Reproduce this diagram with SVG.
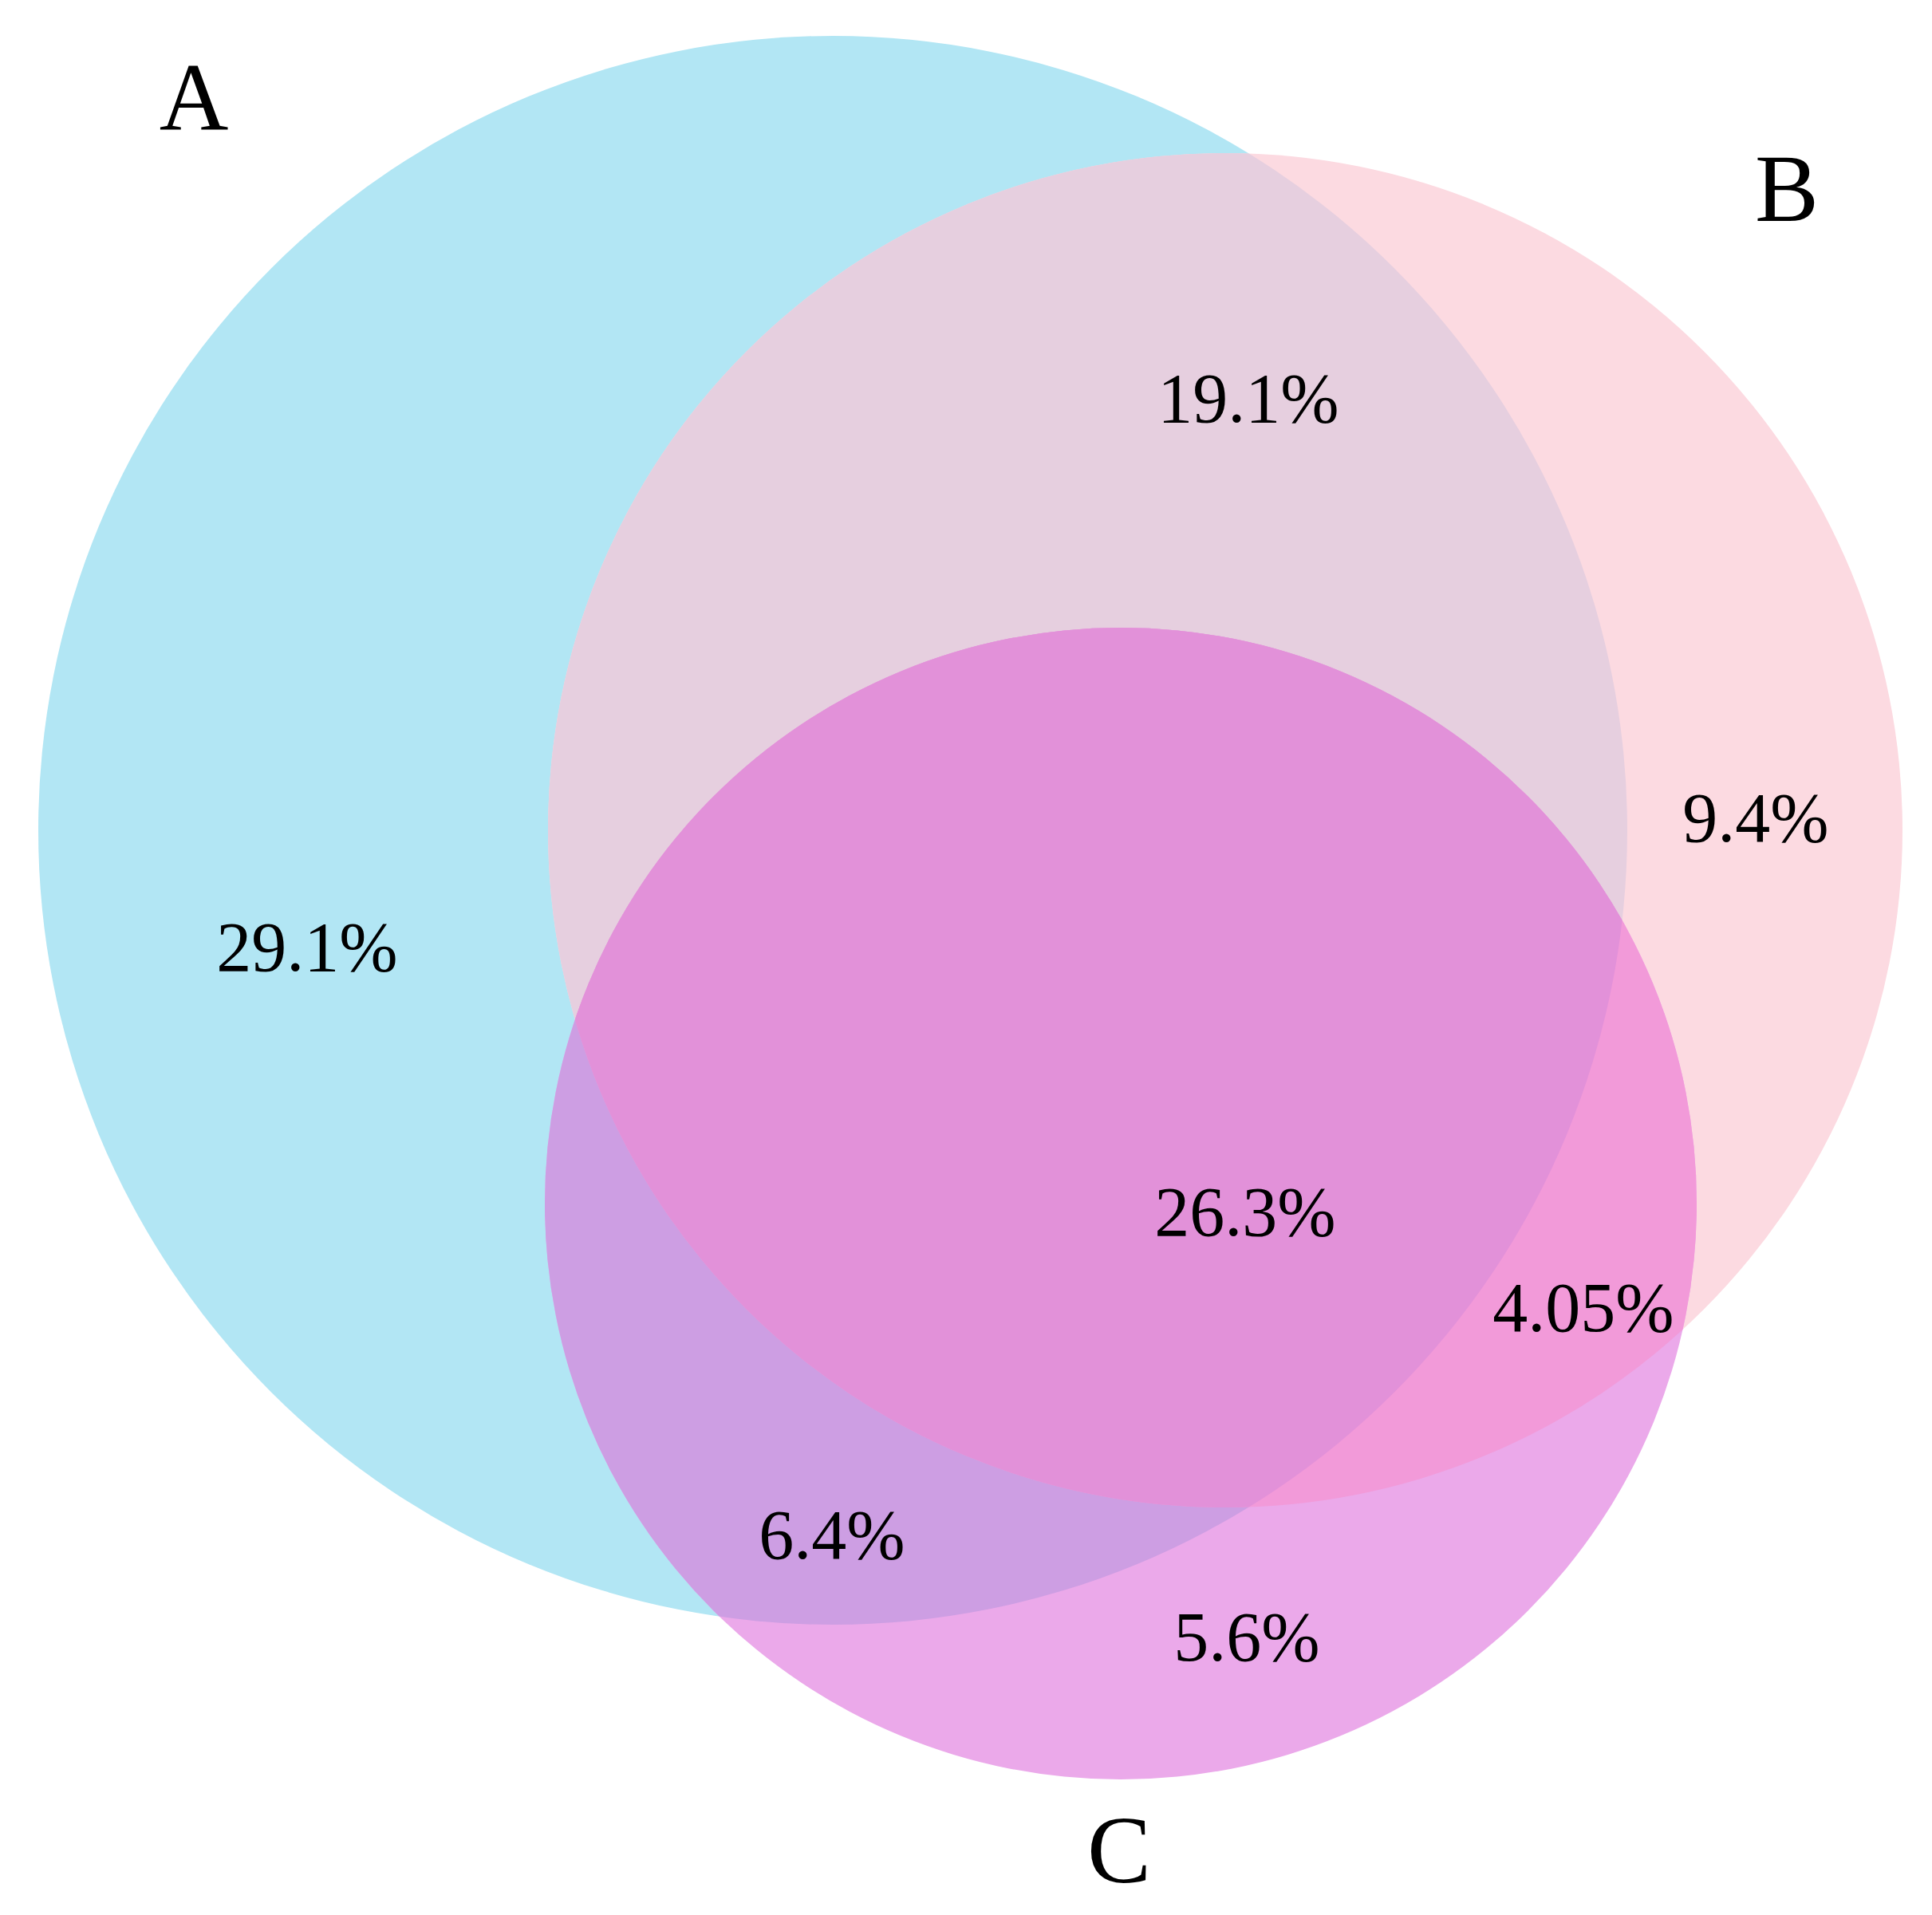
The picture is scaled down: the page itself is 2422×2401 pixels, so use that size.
<svg xmlns="http://www.w3.org/2000/svg" width="2422" height="2401" viewBox="0 0 2422 2401">
<style>
.lbl{font-family:"Liberation Serif","Times New Roman",serif;font-size:120px;fill:#000;text-anchor:middle}
.num{font-family:"Liberation Serif","Times New Roman",serif;font-size:88px;fill:#000;text-anchor:middle}
</style>
<defs>
<clipPath id="clipA"><circle cx="1044" cy="1041" r="996"/></clipPath>
<clipPath id="clipB"><circle cx="1536" cy="1041" r="849"/></clipPath>
</defs>
<rect width="2422" height="2401" fill="#ffffff"/>
<g id="setA"><circle cx="1044" cy="1041" r="996" fill="#b2e6f4"/></g>
<g id="setB"><circle cx="1536" cy="1041" r="849" fill="#fcdae1"/></g>
<g id="setC"><circle cx="1405" cy="1509" r="722" fill="#eba9ea"/></g>
<g id="regionAB"><circle cx="1536" cy="1041" r="849" fill="#e6cfdf" clip-path="url(#clipA)"/></g>
<g id="regionAC"><circle cx="1405" cy="1509" r="722" fill="#cd9ee3" clip-path="url(#clipA)"/></g>
<g id="regionBC"><circle cx="1405" cy="1509" r="722" fill="#f29ad9" clip-path="url(#clipB)"/></g>
<g id="regionABC" clip-path="url(#clipA)"><circle cx="1405" cy="1509" r="722" fill="#e291d9" clip-path="url(#clipB)"/></g>
<g id="connectors"></g>
<g id="labels">
<text class="lbl" x="243" y="163">A</text>
<text class="lbl" x="2240" y="277">B</text>
<text class="lbl" x="1403" y="2360">C</text>
<text class="num" x="1565" y="529">19.1%</text>
<text class="num" x="2201" y="1055">9.4%</text>
<text class="num" x="385" y="1217">29.1%</text>
<text class="num" x="1561" y="1549">26.3%</text>
<text class="num" x="1985" y="1669">4.05%</text>
<text class="num" x="1043" y="1954">6.4%</text>
<text class="num" x="1563" y="2082">5.6%</text>
</g>
</svg>
